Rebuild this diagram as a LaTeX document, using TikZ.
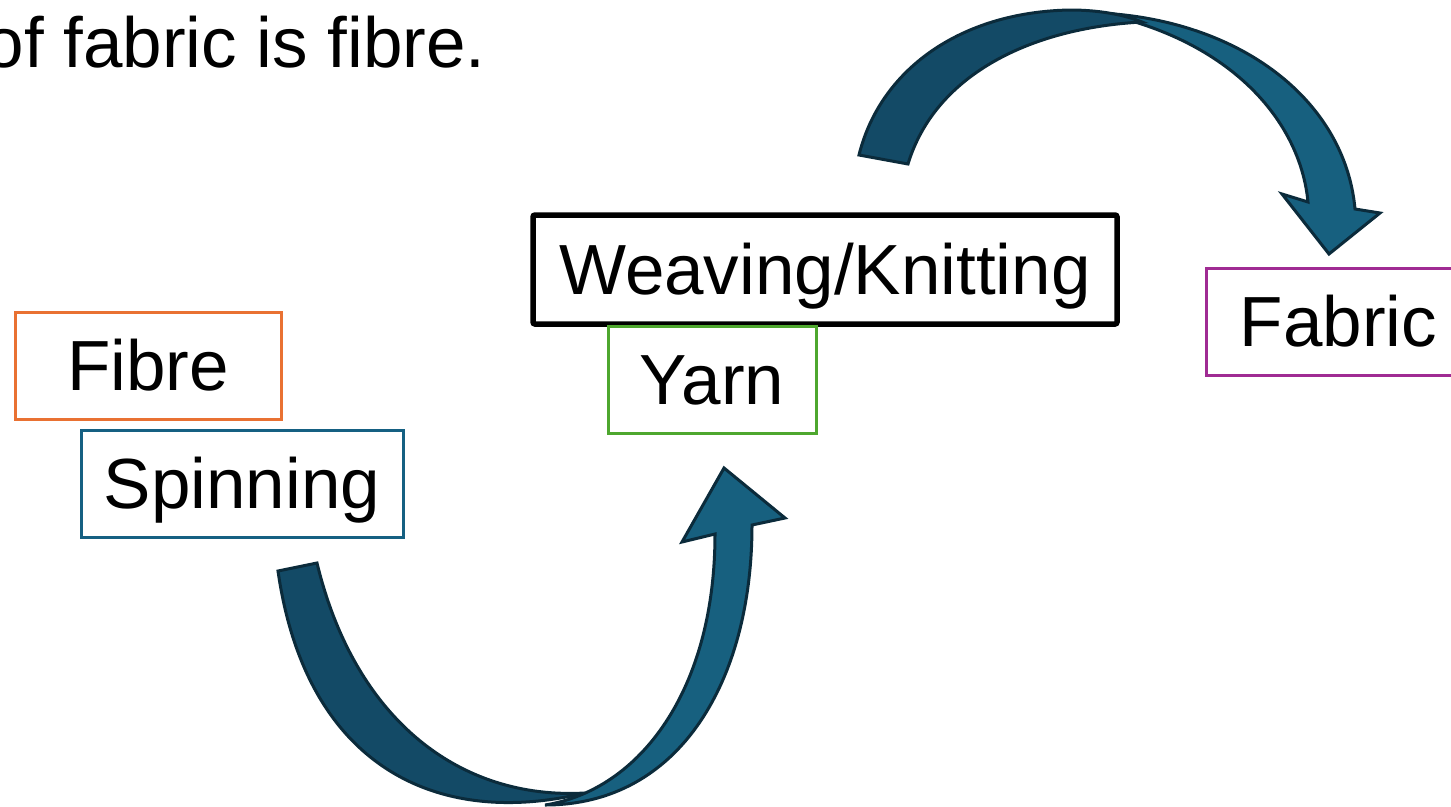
\documentclass[tikz,border=0pt]{standalone}
\usepackage{fontspec}
\setmainfont{Liberation Sans}
\definecolor{fibreorange}{HTML}{E97132}
\definecolor{spinblue}{HTML}{156082}
\definecolor{yarngreen}{HTML}{4EA72E}
\definecolor{fabricpurple}{HTML}{A02B93}
\definecolor{ribbondark}{HTML}{134A66}
\definecolor{ribbonlight}{HTML}{17607F}
\definecolor{ribbonline}{HTML}{0B2B3B}

\begin{document}
\begin{tikzpicture}[x=1pt,y=-1pt,
		stage/.style={draw,line width=3pt,inner sep=0pt,text height=49pt,text depth=0pt,minimum height=107pt,font=\fontsize{71}{85}\selectfont},
		ribbon/.style={draw=ribbonline,line width=3pt,line join=miter}]
	\useasboundingbox (0,0) rectangle (1451,806);
	\node[anchor=base east,inner sep=0pt,font=\fontsize{71}{85}\selectfont] (intro) at (486,67) {of fabric is fibre.};
	% stages
	\node[stage,draw=fibreorange,minimum width=266pt] (fibre) at (148,366) {Fibre};
	\node[stage,draw=spinblue,minimum width=322pt] (spinning) at (242,483.5) {Spinning};
	\node[stage,draw=black,line width=5.5pt,rounded corners=2pt,minimum width=584pt,minimum height=109pt] (weaving) at (825,269.5) {Weaving/Knitting};
	\node[stage,draw=yarngreen,minimum width=208pt] (yarn) at (712,379.5) {Yarn};
	\node[stage,draw=fabricpurple,minimum width=265pt] (fabric) at (1338.5,321.5) {Fabric};
	% spinning -> yarn
	\draw[ribbon,fill=ribbonlight] (545,805) .. controls (680,805) and (752,680) .. (752,525) -- (785,518) -- (724,468) -- (682,542) -- (715,534) .. controls (715,690) and (640,790) .. (545,805) -- cycle;
	\draw[ribbon,fill=ribbondark] (278,571) -- (317,563) .. controls (355,720) and (460,800) .. (585,793) .. controls (430,830) and (305,760) .. (278,571) -- cycle;
	% weaving -> fabric
	\draw[ribbon,fill=ribbonlight] (1100,13) .. controls (1240,20) and (1345,100) .. (1355,209) -- (1380,213) -- (1329,254) -- (1282,194) -- (1308,202) .. controls (1300,120) and (1230,40) .. (1100,13) -- cycle;
	\draw[ribbon,fill=ribbondark] (859,155) .. controls (880,70) and (960,12) .. (1070,10) .. controls (1100,10) and (1125,15) .. (1142,22) .. controls (1030,28) and (935,75) .. (908,164) -- cycle;
\end{tikzpicture}
\end{document}
